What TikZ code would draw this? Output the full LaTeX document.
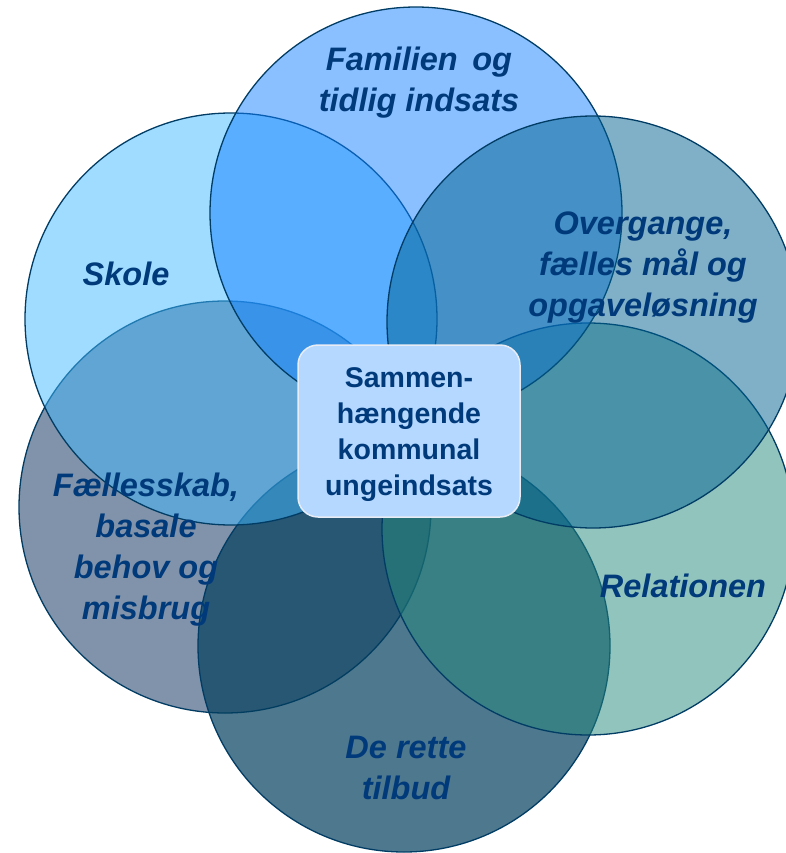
\documentclass[tikz,border=0pt]{standalone}
\usepackage{fontspec}
\setmainfont{Liberation Sans}
\definecolor{ringline}{RGB}{0,60,100}
\definecolor{labeltext}{RGB}{0,58,122}
\definecolor{cFam}{RGB}{21,129,255}
\definecolor{cSkole}{RGB}{65,185,255}
\definecolor{cOver}{RGB}{1,97,145}
\definecolor{cRel}{RGB}{37,137,125}
\definecolor{cTilbud}{RGB}{2,62,94}
\definecolor{cFaell}{RGB}{3,39,85}
\definecolor{boxfill}{RGB}{180,216,255}
\definecolor{boxline}{RGB}{232,236,244}
\tikzset{
  ring/.style={circle, draw=ringline, line width=1.3pt, minimum size=412pt, inner sep=0pt},
  ringlabel/.style={text=labeltext, align=center, font=\fontsize{32.5}{41}\selectfont\bfseries\itshape},
  hubbox/.style={draw=boxline, line width=1.5pt, fill=boxfill, rounded corners=20pt,
    minimum width=222pt, minimum height=172pt, inner sep=0pt, align=center,
    text=labeltext, font=\fontsize{28.5}{36}\selectfont\bfseries}
}
\begin{document}
\begin{tikzpicture}[x=1pt,y=-1pt]
\useasboundingbox (0,0) rectangle (785,853);
\node[ring, fill=cFaell, fill opacity=0.5] (faell) at (225,507) {};
\node[ring, fill=cTilbud, fill opacity=0.7] (tilbud) at (404,646) {};
\node[ring, fill=cRel, fill opacity=0.5] (rel) at (588,529) {};
\node[ring, fill=cSkole, fill opacity=0.5] (skole) at (231,319) {};
\node[ring, fill=cFam, fill opacity=0.5] (fam) at (416,213) {};
\node[ring, fill=cOver, fill opacity=0.5] (over) at (593,322) {};
\node[ringlabel] (tFam) at (419,83) {Familien\hspace{0.45em}og\\tidlig indsats};
\node[ringlabel] (tSkole) at (126,274) {Skole};
\node[ringlabel] (tOver) at (643,268) {Overgange,\\fælles mål og\\opgaveløsning};
\node[ringlabel] (tRel) at (683,586) {Relationen};
\node[ringlabel] (tTilbud) at (406,768) {De rette\\tilbud};
\node[ringlabel] (tFaell) at (146,550) {Fællesskab,\\basale\\behov og\\misbrug};
\node[hubbox] (hub) at (409,431) {};
\node[text=labeltext, align=center, font=\fontsize{28.5}{36}\selectfont\bfseries] (hubtext) at (409,435) {Sammen-\\hængende\\kommunal\\ungeindsats};
\end{tikzpicture}
\end{document}
